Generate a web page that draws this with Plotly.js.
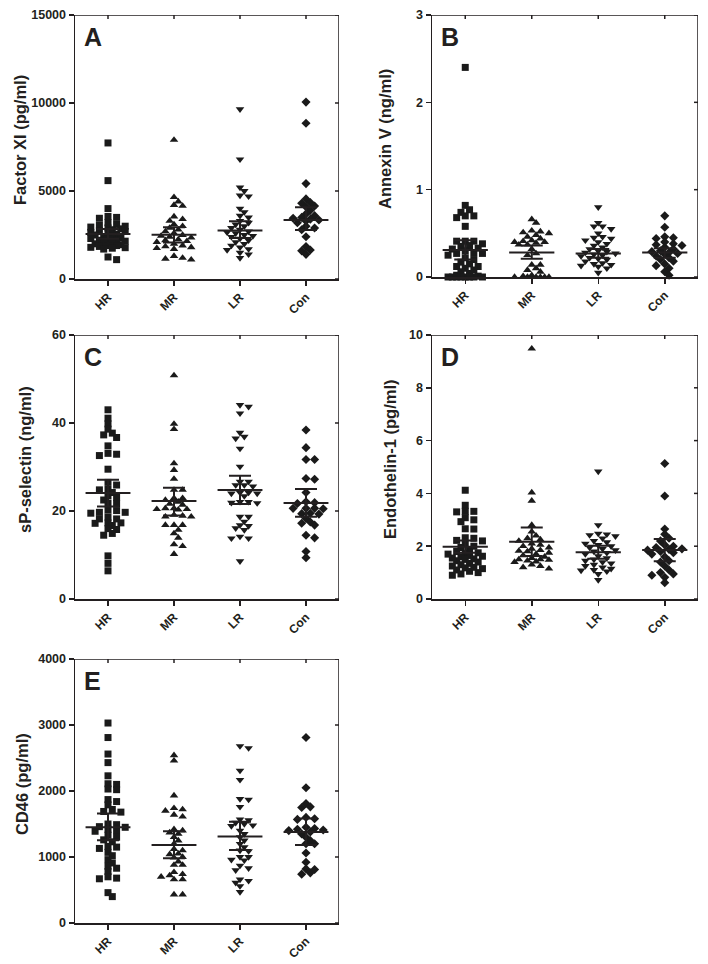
<!DOCTYPE html>
<html>
<head>
<meta charset="utf-8">
<script src="https://cdn.plot.ly/plotly-3.0.1.min.js"></script>
<style>html,body{margin:0;padding:0;background:#fff;}#chart{width:708px;height:964px;}</style>
</head>
<body>
<div id="chart"></div>
<script>
// ---------- DATA ----------
const categories = ['HR', 'MR', 'LR', 'Con'];

// Panel A: Factor XI (pg/ml)
const factorXI_HR = [7730, 5590, 4000, 3550, 3500, 3450, 3200, 3100, 3050, 3000, 2950, 2900, 2850, 2800, 2750, 2700, 2650, 2600, 2550, 2500, 2450, 2400, 2350, 2300, 2250, 2200, 2200, 2150, 2100, 2050, 2000, 1950, 1900, 1900, 1850, 1800, 1780, 1750, 1700, 1250, 1100];
const factorXI_MR = [7900, 4650, 4400, 4200, 4150, 3550, 3400, 3300, 3100, 3000, 2900, 2800, 2700, 2600, 2500, 2450, 2400, 2350, 2250, 2200, 2150, 2100, 2000, 1900, 1850, 1800, 1750, 1700, 1300, 1200, 1150, 1100];
const factorXI_LR = [9650, 6800, 5200, 5000, 4750, 4700, 4000, 3800, 3600, 3500, 3300, 3200, 3100, 3000, 2900, 2800, 2700, 2650, 2600, 2500, 2450, 2400, 2300, 2200, 2100, 2000, 1900, 1800, 1700, 1650, 1500, 1400, 1200];
const factorXI_Con = [10050, 8850, 5420, 4550, 4350, 4300, 4150, 4100, 3900, 3700, 3600, 3500, 3450, 3400, 3350, 3300, 3200, 3000, 2900, 2800, 2400, 1850, 1650, 1600, 1400];
const factorXI_mean = [2560, 2520, 2750, 3350];
const factorXI_lo = [2280, 2080, 2330, 2780];
const factorXI_hi = [2840, 2940, 3280, 4070];

// Panel B: Annexin V (ng/ml)
const annexin_HR = [2.40, 0.82, 0.77, 0.74, 0.70, 0.70, 0.68, 0.58, 0.41, 0.41, 0.41, 0.38, 0.36, 0.35, 0.33, 0.32, 0.30, 0.28, 0.27, 0.27, 0.25, 0.22, 0.20, 0.17, 0.15, 0.12, 0.12, 0.10, 0.08, 0.06, 0.04, 0.02, 0.01, 0, 0, 0, 0, 0, 0, 0, 0];
const annexin_MR = [0.66, 0.62, 0.53, 0.52, 0.51, 0.50, 0.48, 0.46, 0.44, 0.42, 0.41, 0.40, 0.40, 0.39, 0.37, 0.37, 0.32, 0.27, 0.25, 0.14, 0.14, 0.10, 0.08, 0.06, 0.02, 0.01, 0, 0, 0, 0, 0, 0];
const annexin_LR = [0.80, 0.62, 0.58, 0.58, 0.55, 0.50, 0.46, 0.45, 0.44, 0.42, 0.40, 0.38, 0.36, 0.34, 0.32, 0.30, 0.29, 0.28, 0.27, 0.26, 0.25, 0.24, 0.22, 0.21, 0.20, 0.18, 0.16, 0.15, 0.14, 0.13, 0.12, 0.10, 0.05];
const annexin_Con = [0.70, 0.57, 0.46, 0.45, 0.44, 0.40, 0.38, 0.37, 0.36, 0.34, 0.32, 0.30, 0.29, 0.28, 0.27, 0.26, 0.24, 0.22, 0.20, 0.18, 0.15, 0.13, 0.10, 0.06, 0.02];
const annexin_mean = [0.31, 0.28, 0.27, 0.28];
const annexin_lo = [0.20, 0.21, 0.22, 0.22];
const annexin_hi = [0.42, 0.36, 0.32, 0.33];

// Panel C: sP-selectin (ng/ml)
const sPsel_HR = [43, 41.1, 39.8, 38.6, 37.7, 37.3, 36.7, 34.8, 33.1, 32.9, 32.6, 29.5, 26.5, 25.9, 24.9, 24.8, 24.2, 23.4, 23.1, 22.5, 21.7, 21.7, 20.2, 20.1, 19.7, 19.7, 19.5, 18.6, 18.2, 18.2, 17.3, 17.3, 17.2, 16.7, 16.0, 15.8, 14.9, 14.5, 9.8, 8.1, 6.4];
const sPsel_MR = [50.8, 39.8, 38.6, 30.8, 29.3, 27.3, 24.8, 24.8, 22.9, 22.9, 22.5, 22.1, 21.6, 21.4, 20.6, 20.6, 20.4, 20.3, 20.4, 18.9, 18.7, 18.7, 19.1, 16.8, 16.8, 16.8, 15.7, 14.9, 13.9, 12.4, 12.0, 10.2];
const sPsel_LR = [44.1, 43.7, 42.2, 37.8, 36.9, 36.5, 34.2, 30.1, 26.7, 26.7, 25.9, 25.6, 25.9, 24.2, 24.2, 24.0, 24.0, 23.4, 22.1, 21.9, 22.1, 21.8, 18.7, 18.7, 17.6, 16.8, 16.6, 16.1, 15.7, 14.2, 13.8, 13.8, 8.6];
const sPsel_Con = [38.4, 34.4, 31.7, 31.7, 27.4, 27.2, 24.2, 22.1, 21.9, 21.7, 20.6, 20.6, 20.6, 20.5, 19.5, 19.3, 19.4, 18.3, 17.5, 16.8, 17.2, 14.5, 13.9, 10.8, 9.4];
const sPsel_mean = [24.1, 22.3, 24.8, 21.8];
const sPsel_lo = [21.0, 19.0, 21.6, 18.7];
const sPsel_hi = [27.1, 25.3, 28.0, 25.0];

// Panel D: Endothelin-1 (pg/ml)
const et1_HR = [4.12, 3.55, 3.32, 3.32, 3.30, 3.08, 3.00, 2.93, 2.66, 2.65, 2.32, 2.30, 2.22, 2.20, 2.10, 2.00, 1.95, 1.85, 1.80, 1.75, 1.72, 1.70, 1.65, 1.62, 1.60, 1.55, 1.52, 1.50, 1.45, 1.40, 1.35, 1.30, 1.25, 1.20, 1.18, 1.15, 1.10, 1.05, 1.00, 0.95, 0.90];
const et1_MR = [9.48, 4.03, 3.72, 2.80, 2.55, 2.40, 2.30, 2.25, 2.20, 2.10, 2.05, 2.00, 1.95, 1.90, 1.85, 1.82, 1.80, 1.75, 1.70, 1.65, 1.60, 1.55, 1.50, 1.50, 1.48, 1.45, 1.42, 1.40, 1.30, 1.25, 1.20, 1.15];
const et1_LR = [4.83, 2.80, 2.48, 2.45, 2.42, 2.38, 2.30, 2.20, 2.15, 2.10, 2.05, 2.00, 1.95, 1.90, 1.85, 1.80, 1.75, 1.70, 1.62, 1.55, 1.50, 1.45, 1.40, 1.35, 1.30, 1.25, 1.20, 1.15, 1.10, 1.08, 1.05, 0.95, 0.72];
const et1_Con = [5.13, 3.90, 2.65, 2.45, 2.30, 2.20, 2.05, 2.00, 1.95, 1.90, 1.88, 1.85, 1.80, 1.75, 1.70, 1.60, 1.45, 1.40, 1.25, 1.10, 1.00, 0.95, 0.90, 0.82, 0.62];
const et1_mean = [1.98, 2.17, 1.77, 1.86];
const et1_lo = [1.75, 1.63, 1.52, 1.43];
const et1_hi = [2.22, 2.71, 2.02, 2.27];

// Panel E: CD46 (pg/ml)
const cd46_HR = [3030, 2810, 2560, 2430, 2230, 2110, 2100, 2030, 2020, 1870, 1840, 1790, 1720, 1690, 1680, 1500, 1490, 1460, 1450, 1420, 1400, 1390, 1330, 1300, 1260, 1230, 1160, 1150, 1130, 1070, 1020, 960, 910, 860, 830, 780, 700, 680, 670, 460, 400];
const cd46_MR = [2540, 2460, 1930, 1740, 1720, 1700, 1640, 1610, 1420, 1400, 1370, 1350, 1300, 1250, 1200, 1120, 1100, 1050, 1040, 1000, 990, 930, 880, 880, 770, 740, 720, 700, 660, 660, 430, 430];
const cd46_LR = [2680, 2650, 2310, 2170, 1880, 1870, 1760, 1570, 1560, 1520, 1500, 1480, 1470, 1400, 1350, 1300, 1250, 1200, 1150, 1100, 1090, 1000, 1000, 960, 950, 870, 830, 800, 660, 640, 610, 560, 470];
const cd46_Con = [2810, 2050, 1810, 1760, 1750, 1600, 1580, 1570, 1450, 1430, 1420, 1410, 1400, 1380, 1350, 1300, 1250, 1200, 1200, 1060, 920, 820, 810, 760, 740];
const cd46_mean = [1450, 1180, 1310, 1380];
const cd46_lo = [1255, 980, 1105, 1180];
const cd46_hi = [1660, 1390, 1535, 1585];

// Axis titles, panel letters, tick values
const panelLetters = ['A', 'B', 'C', 'D', 'E'];
const yTitles = ['Factor XI (pg/ml)', 'Annexin V (ng/ml)', 'sP-selectin (ng/ml)', 'Endothelin-1 (pg/ml)', 'CD46 (pg/ml)'];
const yRanges = [[0, 15000], [0, 3], [0, 60], [0, 10], [0, 4000]];
const yTicks = [[0, 5000, 10000, 15000], [0, 1, 2, 3], [0, 20, 40, 60], [0, 2, 4, 6, 8, 10], [0, 1000, 2000, 3000, 4000]];

// ---------- LAYOUT GEOMETRY (pixels) ----------
const W = 708, H = 964;
const boxes = [
  {l: 75, r: 339, t: 15, b: 279, titleX: 20},
  {l: 432, r: 698, t: 15, b: 277, titleX: 385},
  {l: 75, r: 339, t: 335, b: 599, titleX: 25},
  {l: 432, r: 698, t: 335, b: 599, titleX: 390},
  {l: 75, r: 339, t: 659, b: 923, titleX: 22}
];
const panels = [
  {groups: [factorXI_HR, factorXI_MR, factorXI_LR, factorXI_Con], mean: factorXI_mean, lo: factorXI_lo, hi: factorXI_hi},
  {groups: [annexin_HR, annexin_MR, annexin_LR, annexin_Con], mean: annexin_mean, lo: annexin_lo, hi: annexin_hi},
  {groups: [sPsel_HR, sPsel_MR, sPsel_LR, sPsel_Con], mean: sPsel_mean, lo: sPsel_lo, hi: sPsel_hi},
  {groups: [et1_HR, et1_MR, et1_LR, et1_Con], mean: et1_mean, lo: et1_lo, hi: et1_hi},
  {groups: [cd46_HR, cd46_MR, cd46_LR, cd46_Con], mean: cd46_mean, lo: cd46_lo, hi: cd46_hi}
];
const symbols = ['square', 'triangle-up', 'triangle-down', 'diamond'];
const symSizes = [7, 7.5, 7.5, 7];

// beeswarm-style horizontal spreading (deterministic, derived from the values)
function swarm(vals, center, pxPerX, pxPerY) {
  const step = 4.3, minD = 5.2, kMax = 4;
  const order = vals.map((v, i) => i).sort((a, b) => vals[b] - vals[a]);
  const placed = [];
  const xs = new Array(vals.length);
  const cands = [0];
  for (let k = 1; k <= kMax; k++) { cands.push(k, -k); }
  for (const i of order) {
    const py = vals[i] * pxPerY;
    let best = null, bestD = -1;
    for (const k of cands) {
      const off = k * step;
      let dmin = Infinity;
      for (const p of placed) { dmin = Math.min(dmin, Math.hypot(p.x - off, p.y - py)); }
      if (dmin >= minD) { best = off; break; }
      if (dmin > bestD + 0.5) { bestD = dmin; best = off; }
    }
    placed.push({x: best, y: py});
    xs[i] = center + best / pxPerX;
  }
  return xs;
}

const FONT = 'Liberation Sans, Arial, Helvetica, sans-serif';
const INK = '#231f20';
const traces = [];
const layout = {
  width: W, height: H,
  margin: {l: 0, r: 0, t: 0, b: 0, pad: 0},
  paper_bgcolor: '#fff', plot_bgcolor: '#fff',
  showlegend: false,
  font: {family: FONT, color: INK},
  annotations: []
};

panels.forEach((p, pi) => {
  const bx = boxes[pi];
  const a = pi + 1;
  const xa = a === 1 ? 'x' : 'x' + a;
  const ya = a === 1 ? 'y' : 'y' + a;
  const xKey = a === 1 ? 'xaxis' : 'xaxis' + a;
  const yKey = a === 1 ? 'yaxis' : 'yaxis' + a;
  const wPx = bx.r - bx.l, hPx = bx.b - bx.t;
  const pxPerX = wPx / 4;
  const yMin = yRanges[pi][0], yMax = yRanges[pi][1];
  const pxPerY = hPx / (yMax - yMin);

  layout[xKey] = {
    domain: [bx.l / W, bx.r / W], anchor: ya, range: [-0.5, 3.5], fixedrange: true,
    tickmode: 'array', tickvals: [0, 1, 2, 3], ticktext: categories,
    ticks: 'outside', ticklen: 5, tickwidth: 1.5, tickcolor: INK,
    showline: true, linecolor: INK, linewidth: 1.5, showgrid: false, zeroline: false,
    tickangle: -45, tickfont: {family: FONT, size: 12, color: INK, weight: 700}
  };
  layout[yKey] = {
    domain: [1 - bx.b / H, 1 - bx.t / H], anchor: xa, range: yRanges[pi], fixedrange: true,
    tickmode: 'array', tickvals: yTicks[pi], ticktext: yTicks[pi].map(String),
    ticks: 'outside', ticklen: 5, tickwidth: 1.5, tickcolor: INK,
    showline: true, linecolor: INK, linewidth: 1.5, showgrid: false, zeroline: false,
    tickfont: {family: FONT, size: 12.5, color: INK, weight: 700}
  };

  // frame: top + right border, with inward ticks (top at categories, right at y ticks)
  const fx = [-0.5, 3.5, 3.5], fy = [yMax, yMax, yMin];
  [0, 1, 2, 3].forEach(c => { fx.push(null, c, c); fy.push(null, yMax, yMax - 4 / pxPerY); });
  yTicks[pi].forEach(v => { fx.push(null, 3.5, 3.5 - 4 / pxPerX); fy.push(null, v, v); });
  traces.push({type: 'scatter', mode: 'lines', xaxis: xa, yaxis: ya, x: fx, y: fy,
    connectgaps: false, line: {color: INK, width: 1.5}, hoverinfo: 'skip', cliponaxis: false});

  p.groups.forEach((vals, gi) => {
    traces.push({
      type: 'scatter', mode: 'markers', xaxis: xa, yaxis: ya,
      x: swarm(vals, gi, pxPerX, pxPerY), y: vals, name: categories[gi],
      marker: {symbol: symbols[gi], size: symSizes[gi], color: '#1a1a1a', line: {width: 0}},
      cliponaxis: false
    });
  });
  // mean line
  p.mean.forEach((m, gi) => {
    traces.push({
      type: 'scatter', mode: 'lines', xaxis: xa, yaxis: ya,
      x: [gi - 0.34, gi + 0.34], y: [m, m], line: {color: INK, width: 2}, hoverinfo: 'skip'
    });
  });
  // 95% CI error bars
  traces.push({
    type: 'scatter', mode: 'markers', xaxis: xa, yaxis: ya,
    x: [0, 1, 2, 3], y: p.mean, marker: {size: 1, opacity: 0}, hoverinfo: 'skip',
    error_y: {type: 'data', symmetric: false,
      array: p.hi.map((h, i) => h - p.mean[i]),
      arrayminus: p.lo.map((l, i) => p.mean[i] - l),
      color: INK, thickness: 2, width: 11}
  });

  layout.annotations.push({
    xref: 'paper', yref: 'paper', x: bx.titleX / W, y: 1 - ((bx.t + bx.b) / 2 - 7) / H,
    text: yTitles[pi], textangle: -90, showarrow: false, xanchor: 'center', yanchor: 'middle',
    font: {family: FONT, size: 16.5, color: INK, weight: 700}
  });
  layout.annotations.push({
    xref: 'paper', yref: 'paper', x: (bx.l + 7) / W, y: 1 - (bx.t + 22) / H,
    text: panelLetters[pi], showarrow: false, xanchor: 'left', yanchor: 'middle',
    font: {family: FONT, size: 25, color: INK, weight: 700}
  });
});

Plotly.newPlot('chart', traces, layout, {displayModeBar: false, staticPlot: true});
</script>
</body>
</html>
